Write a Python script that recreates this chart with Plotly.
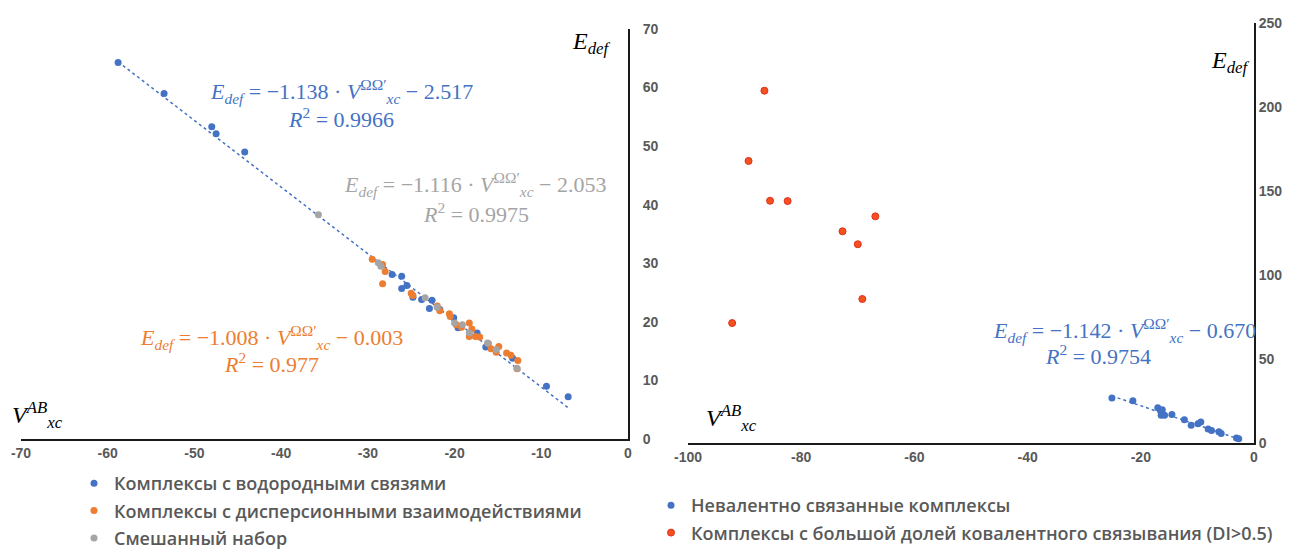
import plotly.graph_objects as go

# ---- left panel: V_xc(AB) vs E_def ----
hb_x = [-58.8, -53.5, -48.0, -47.5, -44.2, -27.2, -26.1, -26.1, -25.5, -24.8, -23.8,
        -22.6, -22.9, -21.7, -20.1, -19.6, -17.4, -16.4, -13.3, -9.4, -6.9]
hb_y = [64.3, 59.0, 53.3, 52.1, 49.0, 28.1, 27.8, 25.7, 26.2, 24.2, 23.8,
        23.7, 22.3, 22.1, 20.7, 19.0, 18.1, 15.7, 13.8, 9.0, 7.2]

disp_x = [-29.5, -28.3, -28.0, -28.3, -25.0, -24.8, -22.0, -21.7, -20.6, -20.5, -19.8,
          -19.2, -18.3, -18.0, -18.3, -17.6, -17.1, -16.1, -15.8, -14.9, -15.2, -14.0,
          -13.5, -12.7, -12.8]
disp_y = [30.7, 29.8, 28.6, 26.5, 24.9, 24.5, 22.7, 21.9, 21.4, 20.9, 19.5,
          19.1, 19.8, 18.8, 17.5, 17.5, 17.4, 16.3, 15.4, 15.8, 14.8, 14.7,
          14.3, 13.4, 12.0]

mix_x = [-35.7, -28.8, -28.5, -23.4, -22.0, -20.0, -19.1, -18.3, -16.2, -15.2, -12.8]
mix_y = [38.3, 30.1, 29.5, 24.1, 22.5, 19.8, 19.5, 18.1, 16.4, 15.3, 12.1]

hb_fit = (-1.138, -2.517)

# ---- right panel ----
nc_x = [-25.1, -21.4, -17.0, -16.5, -16.2, -16.4, -15.8, -14.5, -12.3, -11.1, -9.9,
        -9.4, -8.1, -7.5, -6.2, -5.8, -3.1, -2.7]
nc_y = [26.8, 25.2, 21.0, 19.0, 19.8, 16.5, 16.5, 16.9, 13.9, 10.5, 11.5,
        12.5, 8.3, 7.5, 6.7, 5.6, 3.0, 2.6]

cov_x = [-92.2, -89.3, -86.5, -85.5, -82.4, -72.7, -70.0, -69.2, -66.9]
cov_y = [71.4, 167.9, 209.7, 144.2, 144.0, 126.0, 118.3, 85.7, 134.9]

nc_fit = (-1.142, -0.670)

left_ticks_x = [-70, -60, -50, -40, -30, -20, -10, 0]
left_ticks_y = [0, 10, 20, 30, 40, 50, 60, 70]
right_ticks_x = [-100, -80, -60, -40, -20, 0]
right_ticks_y = [0, 50, 100, 150, 200, 250]

BLUE = '#4472C4'
ORANGE = '#ED7D31'
GRAY = '#A5A5A5'
RED = '#F4511E'
TXT = '#595959'

# the page body has an 8px margin: keep the figure inside it, at (8, 8) on screen
OFF = 8
W, H = 1290 - 2 * OFF, 557 - 2 * OFF


def px(x):
    return (x - OFF) / W


def py(y):
    return 1 - (y - OFF) / H


fig = go.Figure()

# trend lines (from the fitted equations, between the extreme points)
x0, x1 = min(hb_x), max(hb_x)
fig.add_trace(go.Scatter(
    x=[x0, x1], y=[hb_fit[0] * x0 + hb_fit[1], hb_fit[0] * x1 + hb_fit[1]],
    mode='lines', line=dict(color=BLUE, width=1.5, dash='dot'),
    showlegend=False, hoverinfo='skip', xaxis='x', yaxis='y'))

fig.add_trace(go.Scatter(x=hb_x, y=hb_y, mode='markers', name='Комплексы с водородными связями',
                         marker=dict(color=BLUE, size=7), legend='legend', legendgroup='a',
                         xaxis='x', yaxis='y'))
fig.add_trace(go.Scatter(x=disp_x, y=disp_y, mode='markers',
                         name='Комплексы с дисперсионными взаимодействиями',
                         marker=dict(color=ORANGE, size=7), legend='legend', legendgroup='b',
                         xaxis='x', yaxis='y'))
fig.add_trace(go.Scatter(x=mix_x, y=mix_y, mode='markers', name='Смешанный набор',
                         marker=dict(color=GRAY, size=7), legend='legend', legendgroup='c',
                         xaxis='x', yaxis='y'))

x0, x1 = min(nc_x), max(nc_x)
fig.add_trace(go.Scatter(
    x=[x0, x1], y=[nc_fit[0] * x0 + nc_fit[1], nc_fit[0] * x1 + nc_fit[1]],
    mode='lines', line=dict(color=BLUE, width=1.5, dash='dot'),
    showlegend=False, hoverinfo='skip', xaxis='x2', yaxis='y2'))

fig.add_trace(go.Scatter(x=nc_x, y=nc_y, mode='markers', name='Невалентно связанные комплексы',
                         marker=dict(color=BLUE, size=7), legend='legend2', legendgroup='d',
                         xaxis='x2', yaxis='y2'))
fig.add_trace(go.Scatter(x=cov_x, y=cov_y, mode='markers',
                         name='Комплексы с большой долей ковалентного связывания (DI>0.5)',
                         marker=dict(color=RED, size=7, line=dict(color='#E0301E', width=1)),
                         legend='legend2', legendgroup='e',
                         xaxis='x2', yaxis='y2'))

tickfont = dict(family='Liberation Sans, Arial', size=14, color=TXT, weight='bold')
axis_common = dict(showline=True, linecolor='#1a1a1a', linewidth=2, showgrid=False,
                   zeroline=False, ticks='', tickfont=tickfont, fixedrange=True,
                   automargin=False)

eq_font = dict(family='Liberation Serif, Times New Roman', size=22)


def eq(coef, const):
    return ('<i>E</i><sub><i>def</i></sub> = −%.3f · <i>V</i><sup>ΩΩ′</sup><sub><i>xc</i></sub> − %.3f'
            % (-coef, -const))


ax_font = dict(family='Liberation Serif', size=24, color='black')
annotations = [
    # left panel equations
    dict(x=px(341), y=py(92), text=eq(-1.138, -2.517), font=dict(eq_font, color=BLUE)),
    dict(x=px(341), y=py(118), text='<i>R</i><sup>2</sup> = 0.9966', font=dict(eq_font, color=BLUE)),
    dict(x=px(475), y=py(185), text=eq(-1.116, -2.053), font=dict(eq_font, color=GRAY)),
    dict(x=px(476), y=py(213), text='<i>R</i><sup>2</sup> = 0.9975', font=dict(eq_font, color=GRAY)),
    dict(x=px(271), y=py(337), text=eq(-1.008, -0.003), font=dict(eq_font, color=ORANGE)),
    dict(x=px(271), y=py(363), text='<i>R</i><sup>2</sup> = 0.977', font=dict(eq_font, color=ORANGE)),
    # right panel equation
    dict(x=px(1124), y=py(330), text=eq(-1.142, -0.670), font=dict(eq_font, color=BLUE)),
    dict(x=px(1098), y=py(355), text='<i>R</i><sup>2</sup> = 0.9754', font=dict(eq_font, color=BLUE)),
    # axis titles
    dict(x=px(591), y=py(43), text='<i>E</i><sub><i>def</i></sub>', font=ax_font),
    dict(x=px(1230), y=py(62), text='<i>E</i><sub><i>def</i></sub>', font=ax_font),
    dict(x=px(37), y=py(415), text='<i>V</i><sup><i>AB</i></sup><sub><i>xc</i></sub>', font=ax_font),
    dict(x=px(732), y=py(418), text='<i>V</i><sup><i>AB</i></sup><sub><i>xc</i></sub>', font=ax_font),
]
for a in annotations:
    a.update(xref='paper', yref='paper', showarrow=False, xanchor='center', yanchor='middle')

legend_font = dict(family='Open Sans, Liberation Sans', size=18, color=TXT, weight=600)

fig.update_layout(
    width=W, height=H,
    # legends sit low on the page; don't let them push the plot margins
    margin=dict(l=0, r=0, t=0, b=0, autoexpand=False),
    paper_bgcolor='white', plot_bgcolor='white',
    xaxis=dict(axis_common, domain=[px(21), px(628)], range=[-70, 0],
               tickvals=left_ticks_x, ticktext=[str(v) for v in left_ticks_x], anchor='y'),
    yaxis=dict(axis_common, domain=[py(439), py(29)], range=[0, 70],
               tickvals=left_ticks_y, anchor='x', side='right', ticklabelstandoff=10),
    xaxis2=dict(axis_common, domain=[px(688), px(1254)], range=[-100, 0],
                tickvals=right_ticks_x, ticktext=[str(v) for v in right_ticks_x], anchor='y2'),
    yaxis2=dict(axis_common, domain=[py(443), py(23)], range=[0, 250],
                tickvals=right_ticks_y, anchor='x2', side='right', ticklabelstandoff=0),
    legend=dict(x=px(74), y=py(465), xanchor='left', yanchor='top', font=legend_font,
                tracegroupgap=1, bgcolor='rgba(0,0,0,0)'),
    legend2=dict(x=px(651), y=py(487), xanchor='left', yanchor='top', font=legend_font,
                 tracegroupgap=1, bgcolor='rgba(0,0,0,0)'),
    annotations=annotations,
    showlegend=True,
)

fig.write_html("out.html")
